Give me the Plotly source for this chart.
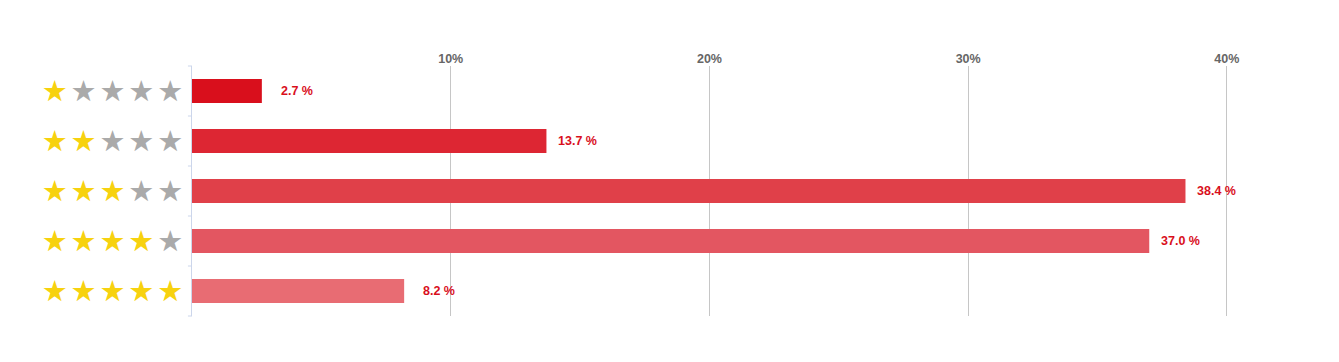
import plotly.graph_objects as go

ratings = [1, 2, 3, 4, 5]
shares = [2.7, 13.7, 38.4, 37.0, 8.2]
bar_colors = ["#d90f1c", "#dd2633", "#e04049", "#e35661", "#e86c73"]
x_ticks = [10, 20, 30, 40]
x_tick_labels = ["10%", "20%", "30%", "40%"]

GOLD = "#f7d20f"
GREY = "#aaaaaa"

def star_label(n):
    parts = []
    for i in range(5):
        c = GOLD if i < n else GREY
        parts.append(f"<span style='color:{c}'>★</span>")
    return "\u200a".join(parts)

cats = [f"{r} stars" for r in ratings]
star_text = [star_label(r) for r in ratings]

fig = go.Figure()
fig.add_trace(go.Bar(
    x=shares, y=cats, orientation="h",
    marker=dict(color=bar_colors, line=dict(width=0)),
    width=0.48, hoverinfo="skip",
))

for v, c in zip(shares, cats):
    fig.add_annotation(
        x=v, y=c, xref="x", yref="y", text=f"<b>{v:.1f} %</b>",
        showarrow=False, xanchor="right", xshift=53,
        font=dict(family="Liberation Sans, Arial, sans-serif", size=12.5, color="#d90f1c"),
    )

fig.update_layout(
    width=1339, height=362,
    margin=dict(l=192, r=49, t=66, b=46),
    plot_bgcolor="white", paper_bgcolor="white",
    showlegend=False,
    xaxis=dict(
        side="top", range=[0, 42.44], tickvals=x_ticks, ticktext=[f"<b>{t}</b>" for t in x_tick_labels],
        showgrid=True, gridcolor="#c6c6c6", gridwidth=1, zeroline=False,
        showline=False, ticks="", ticklen=0,
        tickfont=dict(family="Liberation Sans, Arial, sans-serif", size=12.5, color="#666666"),
    ),
    yaxis=dict(
        type="category",
        categoryorder="array", categoryarray=cats, range=[4.5, -0.5],
        tickvals=cats, ticktext=star_text,
        showgrid=False, zeroline=False,
        showline=True, linecolor="#ccd6eb", linewidth=1,
        ticks="", ticklabelstandoff=2,
        tickfont=dict(family="DejaVu Sans", size=29, color=GREY),
    ),
)

# category boundary tick marks on the y axis
for i in range(len(cats) + 1):
    fig.add_shape(type="line", xref="paper", yref="paper",
                  x0=-0.0037, x1=0, y0=i / len(cats), y1=i / len(cats),
                  line=dict(color="#ccd6eb", width=1))

fig.write_html("out.html")
